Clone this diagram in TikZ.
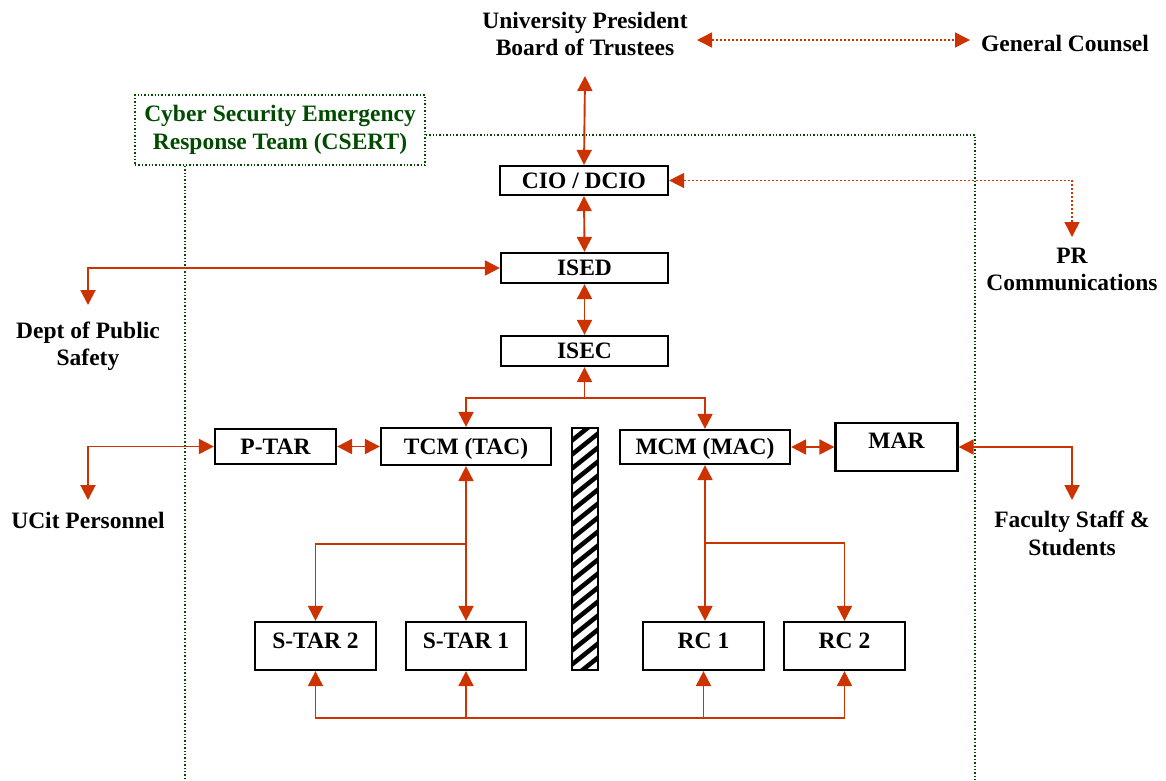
\documentclass[tikz,border=0pt]{standalone}
\usepackage{fontspec}
\setmainfont{Liberation Serif}
\usetikzlibrary{arrows.meta,calc}
\definecolor{arr}{RGB}{204,51,0}
\definecolor{grn}{RGB}{0,75,0}
\begin{document}
\begin{tikzpicture}[x=1pt,y=-1pt,
  >={Triangle[length=15pt,width=15pt]},
  txt/.style={font=\fontsize{23.5}{27.5}\selectfont\bfseries, align=center, inner sep=0pt},
  box/.style={txt, draw=black, line width=2.2pt, fill=white, text height=15.5pt, text depth=0pt},
  conn/.style={draw=arr, line width=1.9pt, line join=miter},
  dotconn/.style={draw=arr, line width=1.5pt, dash pattern=on 2pt off 2pt},
  gline/.style={draw=grn, line width=1.4pt, dash pattern=on 1.4pt off 2pt}
]
\useasboundingbox (0,0) rectangle (1166,780);

% text-only nodes
\node[txt] (up) at (585,34) {University President\\Board of Trustees};
\node[txt] (gc) at (1065,43) {General Counsel};
\node[txt] (prc) at (1072,269.5) {PR\\Communications};
\node[txt] (dpsl) at (88,346.5) {Dept of Public\\Safety};
\node[txt] (ucitl) at (88,520) {UCit Personnel};
\node[txt] (facl) at (1072,533.5) {Faculty Staff \&\\Students};

% CSERT
\node[txt, draw=grn, text=grn, line width=1.4pt, dash pattern=on 1.4pt off 2pt,
      minimum width=290pt, minimum height=70pt] (csert) at (280,130)
      {Cyber Security Emergency\\Response Team (CSERT)};
\coordinate (gr) at (975,780);
\coordinate (gl) at (185,780);
\draw[gline] ($(csert.east)+(0,5)$) -| (gr);
\draw[gline] (csert.south -| gl) -- (gl);

% boxes
\node[box, minimum width=168pt, minimum height=29pt] (cio) at (584,180.5) {CIO / DCIO};
\node[box, minimum width=167pt, minimum height=30pt] (ised) at (584.5,268) {ISED};
\node[box, minimum width=167pt, minimum height=30pt] (isec) at (584.5,351) {ISEC};
\node[box, minimum width=121pt, minimum height=35pt] (ptar) at (275.5,446.5) {P-TAR};
\node[box, minimum width=170pt, minimum height=37pt] (tcm) at (466,446.5) {TCM (TAC)};
\node[box, minimum width=170pt, minimum height=34pt] (mcm) at (705,447) {MCM (MAC)};
\node[box, minimum width=122pt, minimum height=48pt, text depth=12pt] (mar) at (896.5,447) {MAR};
\node[box, minimum width=121pt, minimum height=48pt, text depth=10pt] (star2) at (315.5,646) {S-TAR 2};
\node[box, minimum width=120pt, minimum height=48pt, text depth=10pt] (star1) at (466,646) {S-TAR 1};
\node[box, minimum width=121pt, minimum height=48pt, text depth=10pt] (rc1) at (703.5,646) {RC 1};
\node[box, minimum width=121pt, minimum height=48pt, text depth=10pt] (rc2) at (844.5,646) {RC 2};

% hatched bar
\node[draw=black, line width=2.4pt, minimum width=26pt, minimum height=242pt, inner sep=0pt,
      path picture={\foreach \k in {0,...,20}
        \draw[line width=4.5pt] ($(path picture bounding box.north west)+(-2,\k*14)$) -- ++(40,-32);}]
      (bar) at (585,549) {};

% free ends
\coordinate (upb) at (585,76);
\coordinate (gcl) at (697,40);
\coordinate (gcr) at (970,40);
\coordinate (pr) at (1072,237);
\coordinate (dps) at (88,305);
\coordinate (ucit) at (88,500);
\coordinate (fac) at (1072,500);
\coordinate (j0) at (585,398);
\coordinate (j1) at (466,544);
\coordinate (j2) at (705,543);
\coordinate (bus) at (585,718);

% dotted red
\draw[dotconn,<->] (gcl) -- (gcr);
\draw[dotconn,<->] (cio.east) -| (pr);

% solid red
\draw[conn,<->] (upb) -- (cio.north);
\draw[conn,<->] (cio.south) -- (ised.north);
\draw[conn,<->] (ised.south) -- (isec.north);
\draw[conn,<->] (ised.west) -| (dps);
\draw[conn,<-] (isec.south) -- (isec.south |- j0);
\draw[conn,<->] (tcm.north) -- (tcm.north |- j0) -- (mcm.north |- j0) -- (mcm.north);
\draw[conn,<->] (ptar.east) -- (tcm.west);
\draw[conn,<->] (mcm.east) -- (mar.west);
\draw[conn,<->] (ptar.west) -| (ucit);
\draw[conn,<->] (mar.east) -| (fac);
\draw[conn,<->] (tcm.south) -- (star1.north);
\draw[conn,->] (tcm.south |- j1) -| (star2.north);
\draw[conn,<->] (mcm.south) -- (mcm.south |- rc1.north);
\draw[conn,->] (mcm.south |- j2) -| (rc2.north);
\draw[conn,<->] (star2.south) -- (star2.south |- bus) -- (rc2.south |- bus) -- (rc2.south);
\draw[conn,->] (star1.south |- bus) -- (star1.south);
\draw[conn,->] (rc1.south |- bus) -- (rc1.south);
\end{tikzpicture}
\end{document}
